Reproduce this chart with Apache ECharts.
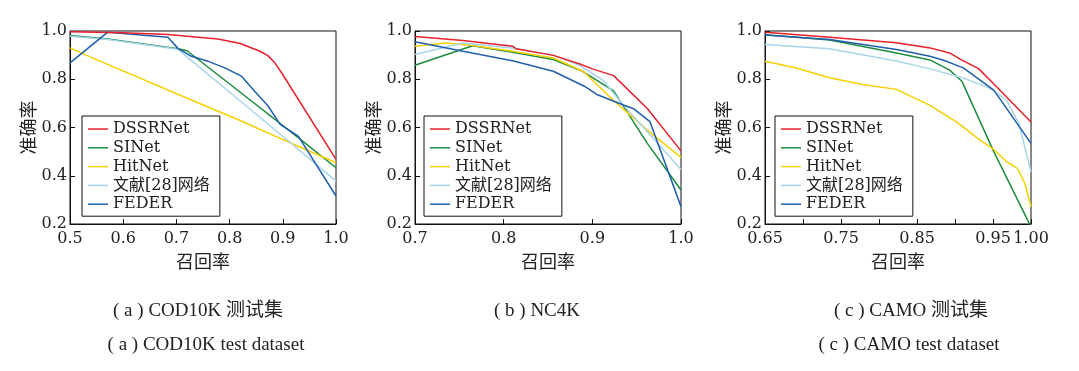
<!DOCTYPE html>
<html><head><meta charset="utf-8">
<script src="https://cdn.jsdelivr.net/npm/echarts@6/dist/echarts.min.js"></script>
<style>html,body{margin:0;padding:0;background:#fff}#c{width:1079px;height:371px}</style>
</head><body><div id="c"></div>
<script>
const seriesNames = ['DSSRNet', 'SINet', 'HitNet', '文献[28]网络', 'FEDER'];
const seriesColors = ['#e8202a', '#1b8c3f', '#f7d000', '#a9d5ec', '#1f5fae'];

// (a) COD10K
const cod_DSSRNet = [[0.5,0.997],[0.6,0.993],[0.684,0.985],[0.778,0.967],[0.82,0.948],[0.857,0.916],[0.872,0.898],[0.885,0.868],[0.898,0.826],[1.0,0.468]];
const cod_SINet = [[0.5,0.981],[0.571,0.967],[0.703,0.926],[0.72,0.918],[0.82,0.746],[0.932,0.553],[1.0,0.433]];
const cod_HitNet = [[0.5,0.93],[0.53,0.9],[0.756,0.688],[0.82,0.629],[0.9,0.55],[1.0,0.454]];
const cod_Ref28 = [[0.5,0.978],[0.571,0.965],[0.703,0.924],[0.82,0.71],[0.91,0.545],[1.0,0.378]];
const cod_FEDER = [[0.5,0.868],[0.571,0.995],[0.684,0.974],[0.703,0.928],[0.728,0.895],[0.759,0.875],[0.791,0.847],[0.822,0.813],[0.847,0.75],[0.872,0.69],[0.895,0.613],[0.929,0.564],[1.0,0.316]];

// (b) NC4K
const nc_DSSRNet = [[0.7,0.977],[0.754,0.961],[0.81,0.937],[0.814,0.926],[0.856,0.899],[0.886,0.863],[0.9,0.843],[0.924,0.815],[0.962,0.679],[1.0,0.503]];
const nc_SINet = [[0.7,0.858],[0.765,0.939],[0.81,0.912],[0.856,0.882],[0.889,0.833],[0.924,0.752],[0.962,0.534],[1.0,0.341]];
const nc_HitNet = [[0.7,0.937],[0.735,0.95],[0.765,0.94],[0.81,0.916],[0.856,0.888],[0.89,0.832],[0.924,0.712],[0.962,0.589],[1.0,0.476]];
const nc_Ref28 = [[0.7,0.903],[0.754,0.95],[0.81,0.93],[0.856,0.9],[0.886,0.857],[0.912,0.796],[0.935,0.693],[0.962,0.582],[1.0,0.426]];
const nc_FEDER = [[0.7,0.955],[0.754,0.916],[0.81,0.877],[0.856,0.833],[0.891,0.771],[0.905,0.737],[0.935,0.693],[0.946,0.679],[0.965,0.624],[1.0,0.272]];

// (c) CAMO
const camo_DSSRNet = [[0.65,0.995],[0.735,0.974],[0.823,0.951],[0.867,0.93],[0.893,0.909],[0.909,0.879],[0.931,0.844],[0.955,0.768],[1.0,0.623]];
const camo_SINet = [[0.65,0.984],[0.735,0.963],[0.823,0.909],[0.867,0.88],[0.893,0.838],[0.909,0.792],[0.951,0.5],[1.0,0.188]];
const camo_HitNet = [[0.65,0.875],[0.691,0.847],[0.735,0.806],[0.779,0.778],[0.823,0.758],[0.867,0.692],[0.902,0.623],[0.933,0.548],[0.951,0.509],[0.968,0.458],[0.982,0.431],[0.992,0.368],[1.0,0.272]];
const camo_Ref28 = [[0.65,0.944],[0.735,0.926],[0.823,0.876],[0.867,0.843],[0.911,0.805],[0.946,0.762],[0.968,0.713],[0.984,0.617],[1.0,0.416]];
const camo_FEDER = [[0.65,0.983],[0.735,0.965],[0.823,0.923],[0.867,0.895],[0.885,0.879],[0.911,0.847],[0.92,0.826],[0.951,0.755],[1.0,0.534]];

const xRanges = [[0.5,1.0,0.1],[0.7,1.0,0.1],[0.65,1.0,0.05]];
const yRange = [0.2,1.0,0.2];
const xName = '召回率', yName = '准确率';
const captions1 = ['( a ) COD10K 测试集', '( b ) NC4K', '( c ) CAMO 测试集'];
const captions2 = ['( a ) COD10K test dataset', '', '( c ) CAMO test dataset'];

const panelData = [
  [cod_DSSRNet, cod_SINet, cod_HitNet, cod_Ref28, cod_FEDER],
  [nc_DSSRNet, nc_SINet, nc_HitNet, nc_Ref28, nc_FEDER],
  [camo_DSSRNet, camo_SINet, camo_HitNet, camo_Ref28, camo_FEDER]
];

const FONT = '"DejaVu Serif", "Noto Sans CJK SC", serif';
const CJK = '"Noto Sans CJK SC", sans-serif';
const gridLefts = [70, 415, 765];
const legendLefts = [82, 424, 775];
const captionCenters = [[198, 206], [537, 537], [911, 909]];
const W = 266, TOP = 31, H = 193;

const grids = [], xAxes = [], yAxes = [], series = [], legends = [];
for (let p = 0; p < 3; p++) {
  grids.push({left: gridLefts[p], top: TOP, width: W, height: H, show: true, borderColor: '#111', borderWidth: 1, backgroundColor: 'transparent'});
  const xr = xRanges[p];
  xAxes.push({
    type: 'value', gridIndex: p, min: xr[0], max: xr[1], interval: xr[2],
    name: xName, nameLocation: 'middle', nameGap: 24,
    nameTextStyle: {fontFamily: CJK, fontSize: 18, color: '#222'},
    axisLine: {lineStyle: {color: '#111', width: 1}},
    axisTick: {inside: true, length: 5, lineStyle: {color: '#111'}},
    splitLine: {show: false},
    axisLabel: {
      margin: 7, fontFamily: FONT, fontSize: 16, color: '#222',
      formatter: p === 2
        ? function (v) { const k = Math.round(v * 100); return (k % 10 === 5 || k === 100) ? v.toFixed(2) : ''; }
        : function (v) { return v.toFixed(1); }
    }
  });
  yAxes.push({
    type: 'value', gridIndex: p, min: yRange[0], max: yRange[1], interval: yRange[2],
    name: yName, nameLocation: 'middle', nameGap: 31, nameRotate: 90,
    nameTextStyle: {fontFamily: CJK, fontSize: 18, color: '#222'},
    axisLine: {show: true, lineStyle: {color: '#111', width: 1}},
    axisTick: {show: true, inside: true, length: 5, lineStyle: {color: '#111'}},
    splitLine: {show: false},
    axisLabel: {margin: 3, fontFamily: FONT, fontSize: 16, color: '#222', formatter: function (v) { return v.toFixed(1); }}
  });
  for (let s = 0; s < 5; s++) {
    series.push({
      type: 'line', name: seriesNames[s], xAxisIndex: p, yAxisIndex: p,
      data: panelData[p][s], symbol: 'none', smooth: false, clip: true,
      lineStyle: {color: seriesColors[s], width: 1.5}, itemStyle: {color: seriesColors[s]},
      z: s === 0 ? 7 : 5, animation: false
    });
  }
  legends.push({
    orient: 'vertical', left: legendLefts[p], top: 116,
    data: seriesNames, icon: 'rect', itemWidth: 20, itemHeight: 1.5, itemGap: 2.8,
    padding: [5, 10, 4, 6], borderColor: '#111', borderWidth: 1, backgroundColor: '#fff',
    textStyle: {fontFamily: FONT, fontSize: 16, color: '#222', lineHeight: 16},
    selectedMode: false
  });
}

const gtexts = [];
for (let p = 0; p < 3; p++) {
  gtexts.push({type: 'text', x: captionCenters[p][0], y: 311, style: {text: captions1[p], fontFamily: '"Liberation Serif", "Noto Sans CJK SC", serif', fontSize: 19, fill: '#222', textAlign: 'center', textVerticalAlign: 'middle'}});
  if (captions2[p]) gtexts.push({type: 'text', x: captionCenters[p][1], y: 345, style: {text: captions2[p], fontFamily: '"Liberation Serif", serif', fontSize: 19, fill: '#222', textAlign: 'center', textVerticalAlign: 'middle'}});
}

const chart = echarts.init(document.getElementById('c'), null, {renderer: 'canvas'});
chart.setOption({
  animation: false,
  backgroundColor: '#fff',
  grid: grids, xAxis: xAxes, yAxis: yAxes, series: series, legend: legends,
  graphic: gtexts
});
</script></body></html>
